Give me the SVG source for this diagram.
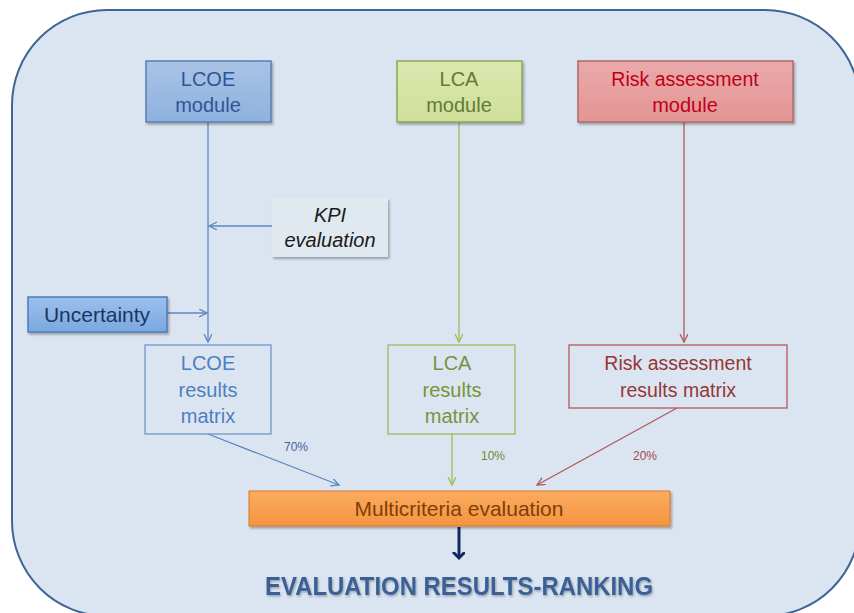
<svg xmlns="http://www.w3.org/2000/svg" width="854" height="613" viewBox="0 0 854 613">
<style>
text{font-family:"Liberation Sans","Open Sans",Arial,sans-serif;text-anchor:middle}
.t{font-size:20px}
.pct{font-size:12px}
.ln{fill:none;stroke-width:1.3}
</style>
<defs>
<linearGradient id="gBlue" x1="0" y1="0" x2="0" y2="1"><stop offset="0" stop-color="#a9c3e6"/><stop offset="1" stop-color="#8eb1de"/></linearGradient>
<linearGradient id="gGreen" x1="0" y1="0" x2="0" y2="1"><stop offset="0" stop-color="#dde8b0"/><stop offset="1" stop-color="#cfdf98"/></linearGradient>
<linearGradient id="gRed" x1="0" y1="0" x2="0" y2="1"><stop offset="0" stop-color="#eaa9a9"/><stop offset="1" stop-color="#e39595"/></linearGradient>
<linearGradient id="gOrange" x1="0" y1="0" x2="0" y2="1"><stop offset="0" stop-color="#fbab60"/><stop offset="1" stop-color="#f59440"/></linearGradient>
<linearGradient id="gUnc" x1="0" y1="0" x2="0" y2="1"><stop offset="0" stop-color="#9cc0ee"/><stop offset="1" stop-color="#7aa8e0"/></linearGradient>
<filter id="sh" x="-10%" y="-10%" width="125%" height="140%"><feDropShadow dx="1.5" dy="2" stdDeviation="1.2" flood-color="#000" flood-opacity="0.3"/></filter>
<filter id="tsh" x="-5%" y="-20%" width="110%" height="150%"><feDropShadow dx="1" dy="1.5" stdDeviation="1" flood-color="#000" flood-opacity="0.3"/></filter>
<marker id="aB" markerWidth="10" markerHeight="10" refX="8" refY="4" orient="auto" markerUnits="userSpaceOnUse"><path d="M0,0 L8,4 L0,8" fill="none" stroke="#5b87c2" stroke-width="1.3"/></marker>
<marker id="aG" markerWidth="10" markerHeight="10" refX="8" refY="4" orient="auto" markerUnits="userSpaceOnUse"><path d="M0,0 L8,4 L0,8" fill="none" stroke="#9bbb59" stroke-width="1.3"/></marker>
<marker id="aR" markerWidth="10" markerHeight="10" refX="8" refY="4" orient="auto" markerUnits="userSpaceOnUse"><path d="M0,0 L8,4 L0,8" fill="none" stroke="#b0585c" stroke-width="1.3"/></marker>
<marker id="aD" markerWidth="14" markerHeight="14" refX="6" refY="6" orient="auto" markerUnits="userSpaceOnUse"><path d="M0,0 L6,6 L0,12" fill="none" stroke="#0f2b5e" stroke-width="3"/></marker>
</defs>

<rect x="12" y="10" width="848" height="606" rx="95" ry="95" fill="#dbe5f1" stroke="#3f6596" stroke-width="2"/>

<g id="connectors">
<path class="ln" d="M208,122 V342" stroke="#5b87c2" marker-end="url(#aB)"/>
<path class="ln" d="M272,226 H209" stroke="#5b87c2" marker-end="url(#aB)"/>
<path class="ln" d="M167,313 H207" stroke="#5b87c2" marker-end="url(#aB)"/>
<path class="ln" d="M459,122 V342" stroke="#9bbb59" marker-end="url(#aG)"/>
<path class="ln" d="M684,122 V342" stroke="#b0585c" marker-end="url(#aR)"/>
<path class="ln" d="M208,434 L339,485" stroke="#5b87c2" marker-end="url(#aB)"/>
<path class="ln" d="M452,434 V485" stroke="#9bbb59" marker-end="url(#aG)"/>
<path class="ln" d="M677,408 L537,485" stroke="#b0585c" marker-end="url(#aR)"/>
<path d="M459,527 V558" fill="none" stroke="#0f2b5e" stroke-width="3" marker-end="url(#aD)"/>
<text class="pct" x="296" y="451" fill="#3e64a0">70%</text>
<text class="pct" x="493" y="460" fill="#6f8a35">10%</text>
<text class="pct" x="645" y="460" fill="#a04a4e">20%</text>
</g>

<g id="lcoe-module">
<rect x="146" y="61" width="125" height="61" fill="url(#gBlue)" stroke="#5a7fb0" stroke-width="1.5" filter="url(#sh)"/>
<text class="t" x="208" y="86" fill="#2f5597">LCOE</text>
<text class="t" x="208" y="112" fill="#2f5597">module</text>
</g>

<g id="lca-module">
<rect x="397" y="61" width="125" height="61" fill="url(#gGreen)" stroke="#8ea55a" stroke-width="1.5" filter="url(#sh)"/>
<text class="t" x="459" y="86" fill="#637a33">LCA</text>
<text class="t" x="459" y="112" fill="#637a33">module</text>
</g>

<g id="risk-module">
<rect x="578" y="61" width="215" height="61" fill="url(#gRed)" stroke="#b36868" stroke-width="1.5" filter="url(#sh)"/>
<text class="t" x="685" y="86" fill="#c0001a" style="font-size:19.5px">Risk assessment</text>
<text class="t" x="685" y="112" fill="#c0001a">module</text>
</g>

<g id="kpi">
<rect x="272" y="198" width="116" height="59" fill="#dfe9ef" filter="url(#sh)"/>
<text class="t" x="330" y="222" fill="#1a1a1a" font-style="italic">KPI</text>
<text class="t" x="330" y="247" fill="#1a1a1a" font-style="italic">evaluation</text>
</g>

<g id="uncertainty">
<rect x="28" y="297" width="139" height="35" fill="url(#gUnc)" stroke="#4f7bb5" stroke-width="1.5" filter="url(#sh)"/>
<text class="t" x="97" y="322" fill="#17375e" style="font-size:21px">Uncertainty</text>
</g>

<g id="lcoe-matrix">
<rect x="145" y="345" width="126" height="89" fill="none" stroke="#6f97cb" stroke-width="1.3"/>
<text class="t" x="208" y="370" fill="#4f7ec0">LCOE</text>
<text class="t" x="208" y="397" fill="#4f7ec0">results</text>
<text class="t" x="208" y="423" fill="#4f7ec0">matrix</text>
</g>

<g id="lca-matrix">
<rect x="388" y="345" width="127" height="89" fill="none" stroke="#9bbb59" stroke-width="1.3"/>
<text class="t" x="452" y="370" fill="#77933c">LCA</text>
<text class="t" x="452" y="397" fill="#77933c">results</text>
<text class="t" x="452" y="423" fill="#77933c">matrix</text>
</g>

<g id="risk-matrix">
<rect x="569" y="345" width="218" height="63" fill="none" stroke="#b8585c" stroke-width="1.3"/>
<text class="t" x="678" y="370" fill="#953735" style="font-size:19.5px">Risk assessment</text>
<text class="t" x="678" y="397" fill="#953735" style="font-size:19.5px">results matrix</text>
</g>

<g id="multicriteria">
<rect x="249" y="491" width="421" height="35" fill="url(#gOrange)" stroke="#d9782c" stroke-width="1" filter="url(#sh)"/>
<text class="t" x="459" y="516" fill="#7f3f06" style="font-size:21px">Multicriteria evaluation</text>
</g>

<g id="ranking">
<text x="459" y="595" fill="#3a6196" font-weight="bold" font-size="25" textLength="388" lengthAdjust="spacingAndGlyphs" filter="url(#tsh)">EVALUATION RESULTS-RANKING</text>
</g>
</svg>
